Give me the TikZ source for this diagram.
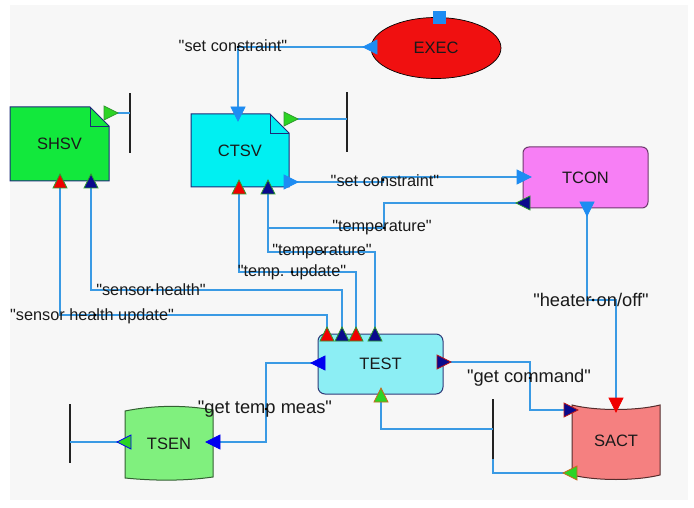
\documentclass[tikz,border=0pt]{standalone}
\usepackage{fontspec}
\setmainfont{Liberation Sans}[Ligatures=TeXOff]
\usetikzlibrary{shapes.geometric}

\pgfdeclarelayer{back}
\pgfdeclarelayer{shapes}
\pgfsetlayers{back,shapes,main}

\definecolor{paper}{HTML}{F7F7F7}
\definecolor{wire}{HTML}{3A9AE4}
\definecolor{ink}{HTML}{1A1A1A}
\definecolor{barink}{HTML}{222222}
\definecolor{portlight}{HTML}{1E8CF2}
\definecolor{portblue}{HTML}{0000F0}
\definecolor{portnavy}{HTML}{0A0A8C}
\definecolor{portred}{HTML}{F00000}
\definecolor{portgreen}{HTML}{2CD424}
\definecolor{rimgreen}{HTML}{2E9A2E}
\definecolor{rimorange}{HTML}{C8661E}
\definecolor{rimred}{HTML}{C01818}
\definecolor{shsvfill}{HTML}{12E83C}
\definecolor{ctsvfill}{HTML}{00F0F2}
\definecolor{tconfill}{HTML}{F77FF5}
\definecolor{testfill}{HTML}{8CEEF4}
\definecolor{sactfill}{HTML}{F58080}
\definecolor{tsenfill}{HTML}{80F07E}
\definecolor{execfill}{HTML}{F01010}
\definecolor{navyedge}{HTML}{1C2A78}

\tikzset{
  wire/.style={draw=wire, line width=1.2pt},
  blk/.style={inner sep=0pt, outer sep=0pt, font=\fontsize{16.5}{18}\selectfont, text=ink},
  lbl/.style={inner sep=0pt, font=\fontsize{16.3}{18}\selectfont, text=ink},
  biglbl/.style={inner sep=0pt, font=\fontsize{18.3}{20}\selectfont, text=ink},
  barnode/.style={fill=barink, minimum width=2.4pt, minimum height=60pt, inner sep=0pt, outer sep=0pt},
  jdot/.style={circle, fill=black, inner sep=0pt, minimum size=3pt},
}

% port marker: position, direction angle, fill, rim
\newcommand\porttri[4]{%
  \begin{scope}[shift={(#1)}, rotate=#2]
    \filldraw[fill=#3, draw=#4, line width=0.8pt, line join=miter]
      (7,0) -- (-7,7) -- (-7,-7) -- cycle;
  \end{scope}}

\begin{document}
\begin{tikzpicture}[x=1pt, y=-1pt]
\useasboundingbox (0,0) rectangle (694,508);
\begin{pgfonlayer}{back}
  \fill[white] (0,0) rectangle (694,508);
  \fill[paper] (10,5) rectangle (688,500);
\end{pgfonlayer}

% ---- blocks ----
\node[blk, minimum width=99pt, minimum height=74pt] (shsv) at (59.5,144) {SHSV};
\node[blk, minimum width=98pt, minimum height=73pt] (ctsv) at (240,150.5) {CTSV};
\node[blk, ellipse, draw=black, line width=0.7pt, fill=execfill,
      minimum width=130pt, minimum height=61pt] (exec) at (436,48) {EXEC};
\node[blk, draw=tconfill!45!black, line width=1pt, fill=tconfill, rounded corners=6pt,
      minimum width=125pt, minimum height=61pt] (tcon) at (585.5,177.5) {TCON};
\node[blk, draw=navyedge!80!gray, line width=1pt, fill=testfill, rounded corners=7pt,
      minimum width=125pt, minimum height=60pt] (test) at (380.5,364) {TEST};
\node[blk, minimum width=88pt, minimum height=71pt] (sact) at (616,440.5) {SACT};
\node[blk, minimum width=88pt, minimum height=68pt] (tsen) at (169,444) {TSEN};

\begin{pgfonlayer}{shapes}
  % document blocks with a folded corner
  \filldraw[fill=shsvfill, draw=navyedge, line width=1pt]
    (shsv.north west) -- ([xshift=-19pt]shsv.north east) -- ([yshift=-19pt]shsv.north east)
    -- (shsv.south east) -- (shsv.south west) -- cycle;
  \draw[navyedge, line width=0.8pt] ([xshift=-19pt]shsv.north east) |- ([yshift=-19pt]shsv.north east);
  \filldraw[fill=ctsvfill, draw=navyedge, line width=1pt]
    (ctsv.north west) -- ([xshift=-19pt]ctsv.north east) -- ([yshift=-19pt]ctsv.north east)
    -- (ctsv.south east) -- (ctsv.south west) -- cycle;
  \draw[navyedge, line width=0.8pt] ([xshift=-19pt]ctsv.north east) |- ([yshift=-19pt]ctsv.north east);
  % banner blocks with curved top and bottom
  \filldraw[fill=sactfill, draw=sactfill!35!black, line width=1pt]
    (572,405) .. controls (596,411) and (636,411) .. (660,405) -- (660,475)
    .. controls (636,481) and (596,481) .. (572,475) -- cycle;
  \filldraw[fill=tsenfill, draw=tsenfill!40!black, line width=1pt]
    (125,411) .. controls (155,405) and (185,405) .. (213,410) -- (213,477)
    .. controls (185,481) and (155,481) .. (125,478) -- cycle;
\end{pgfonlayer}

% ---- bars ----
\node[barnode] (bar1) at (130,123) {};
\node[barnode] (bar2) at (347,122) {};
\node[barnode] (bar3) at (493,428.5) {};
\node[barnode, minimum height=59pt] (bar4) at (70,433.5) {};

% ---- ports ----
\coordinate (exec-w)  at (370,47);
\coordinate (exec-n)  at (439,18);
\coordinate (ctsv-n)  at (238,114);
\coordinate (ctsv-e)  at (291,182);
\coordinate (ctsv-p)  at (291,119);
\coordinate (ctsv-b1) at (239,187);
\coordinate (ctsv-b2) at (268,187);
\coordinate (shsv-p)  at (111,113);
\coordinate (shsv-b1) at (60,181);
\coordinate (shsv-b2) at (91,181);
\coordinate (tcon-w)  at (524,177);
\coordinate (tcon-w2) at (523,203);
\coordinate (tcon-s)  at (587,209);
\coordinate (test-n1) at (327,334);
\coordinate (test-n2) at (342,334);
\coordinate (test-n3) at (356,334);
\coordinate (test-n4) at (375,334);
\coordinate (test-w)  at (318,363);
\coordinate (test-e)  at (444,362);
\coordinate (test-s)  at (381,395);
\coordinate (sact-n)  at (616,405);
\coordinate (sact-w)  at (571,410);
\coordinate (sact-sw) at (570,473);
\coordinate (tsen-e)  at (213,442);
\coordinate (tsen-w)  at (124,442);

% ---- connectors ----
\draw[wire] (exec-w) -| (ctsv-n);
\draw[wire] (ctsv-e) -- (383,182) |- (tcon-w);
\draw[wire] (tcon-w2) -| (384,228) -| (ctsv-b2);
\draw[wire] (ctsv-b2) |- (375,252) -- (test-n4);
\draw[wire] (ctsv-b1) |- (356,272) -- (test-n3);
\draw[wire] (shsv-b2) |- (342,290) -- (test-n2);
\draw[wire] (shsv-b1) |- (327,315) -- (test-n1);
\draw[wire] (tcon-s) |- (616,300) -- (sact-n);
\draw[wire] (test-e) -| (530,410) -- (sact-w);
\draw[wire] (test-w) -| (266,442) -- (tsen-e);
\draw[wire] (test-s) |- (bar3 |- 0,429);
\draw[wire] (sact-sw) -| (bar3.south);
\draw[wire] (tsen-w) -- (bar4 |- tsen-w);
\draw[wire] (shsv-p) -- (bar1 |- shsv-p);
\draw[wire] (ctsv-p) -- (bar2 |- ctsv-p);

% ---- port markers ----
\fill[portlight] ([shift={(-6.5,-6.5)}]exec-n) rectangle ([shift={(6.5,6.5)}]exec-n);
\porttri{exec-w}{180}{portlight}{portlight}
\porttri{ctsv-n}{-90}{portlight}{portlight}
\porttri{ctsv-e}{0}{portlight}{portlight}
\porttri{tcon-w}{0}{portlight}{portlight}
\porttri{tcon-s}{-90}{portlight}{portlight}
\porttri{shsv-p}{0}{portgreen}{rimgreen}
\porttri{ctsv-p}{0}{portgreen}{rimgreen}
\porttri{shsv-b1}{90}{portred}{rimgreen}
\porttri{shsv-b2}{90}{portnavy}{rimgreen}
\porttri{ctsv-b1}{90}{portred}{rimgreen}
\porttri{ctsv-b2}{90}{portnavy}{rimgreen}
\porttri{tcon-w2}{180}{portnavy}{rimgreen}
\porttri{test-n1}{90}{portred}{rimgreen}
\porttri{test-n2}{90}{portnavy}{rimgreen}
\porttri{test-n3}{90}{portred}{rimgreen}
\porttri{test-n4}{90}{portnavy}{rimgreen}
\porttri{test-w}{180}{portblue}{portblue}
\porttri{test-e}{0}{portnavy}{rimred}
\porttri{test-s}{90}{portgreen}{rimorange}
\porttri{sact-n}{-90}{portred}{portred}
\porttri{sact-w}{0}{portnavy}{rimred}
\porttri{sact-sw}{180}{portgreen}{rimorange}
\porttri{tsen-e}{180}{portblue}{portblue}
\porttri{tsen-w}{180}{portgreen}{portblue}

% ---- connector labels ----
\node[lbl] (l1) at (233,46) {"set constraint"};
\node[lbl] (l2) at (385,181) {"set constraint"};
\node[lbl] (l3) at (382,228) {"temperature"};
\node[lbl] (l4) at (322,252) {"temperature"};
\node[lbl] (l5) at (292,272) {"temp. update"};
\node[lbl] (l6) at (151,290) {"sensor health"};
\node[lbl] (l7) at (92,316) {"sensor health update"};
\node[biglbl] (l8) at (591,300) {"heater on/off"};
\node[biglbl] (l9) at (529,378) {"get command"};
\node[biglbl] (l10) at (265,409) {"get temp meas"};
\foreach \p in {(238,47),(383,180),(384,228),(323,252),(292,272),(152,290),(95,315),(593,300),(530,378),(266,409)}
  \node[jdot] at \p {};
\end{tikzpicture}
\end{document}
